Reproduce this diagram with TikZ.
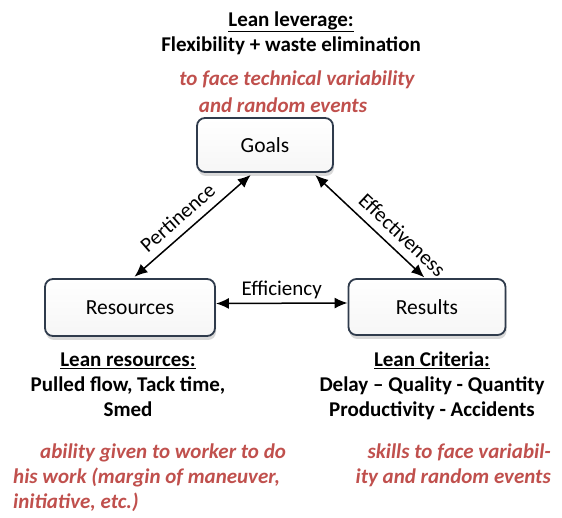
\documentclass[tikz,border=0pt]{standalone}
\usepackage{fontspec}
\setmainfont{Carlito}
\usetikzlibrary{arrows.meta}
\usetikzlibrary{shadows}
\pgfdeclarelayer{edgelayer}
\pgfdeclarelayer{nodelayer}
\pgfsetlayers{edgelayer,nodelayer,main}
\definecolor{leanred}{RGB}{192,80,77}
\definecolor{boxline}{RGB}{47,59,76}
\tikzstyle{pole}=[rectangle,rounded corners=8pt,draw=boxline,line width=1.8pt,top color=white,bottom color=gray!7,drop shadow={opacity=0.3,shadow xshift=1pt,shadow yshift=-4pt},font=\fontsize{21.5}{25}\selectfont,inner sep=0pt]
\tikzstyle{plain}=[inner sep=0pt,font=\fontsize{21}{25}\selectfont\bfseries,align=center]
\tikzstyle{remark}=[inner sep=0pt,font=\fontsize{21}{25}\selectfont\bfseries\itshape,text=leanred]
\tikzstyle{link}=[{Latex[length=13pt,width=11pt]}-{Latex[length=13pt,width=11pt]},line width=1.5pt]
\tikzstyle{tag}=[inner sep=0pt,font=\fontsize{21}{25}\selectfont]

\begin{document}
\begin{tikzpicture}[x=1pt,y=-1pt]
					\useasboundingbox (0,0) rectangle (562,518);
					\begin{pgfonlayer}{nodelayer}
						\node [style=pole,minimum width=136pt,minimum height=54pt] (goals) at (265.000,145.000) {Goals};
						\node [style=pole,minimum width=170pt,minimum height=57pt] (resources) at (130.000,307.500) {Resources};
						\node [style=pole,minimum width=157pt,minimum height=56pt] (results) at (427.000,307.000) {Results};
						\node [style=plain] (leverage) at (291.000,33.000) {\underline{Lean leverage:}\\Flexibility + waste elimination};
						\node [style=remark] (leverage1) at (297.000,80.000) {to face technical variability};
						\node [style=remark] (leverage2) at (283.000,105.000) {and random events};
						\node [style=plain] (leanres) at (128.000,385.000) {\underline{Lean resources:}\\Pulled flow, Tack time,\\Smed};
						\node [style=plain] (criteria) at (432.000,386.000) {\underline{Lean Criteria:}\\Delay – Quality - Quantity\\Productivity - Accidents};
						\node [style=remark,anchor=west,align=left] (ability) at (13.000,478.000) {\hspace*{27pt}ability given to worker to do\\his work (margin of maneuver,\\initiative, etc.)};
						\node [style=remark,anchor=east,align=right] (skills) at (551.000,465.000) {skills to face variabil-\\ity and random events};
					\end{pgfonlayer}
					\begin{pgfonlayer}{edgelayer}
						\draw [style=link,shorten <=2pt,shorten >=3pt] ([xshift=3pt]resources.north) to node [style=tag,sloped,above=8pt,pos=0.46] {Pertinence} ([xshift=-12pt]goals.south);
						\draw [style=link,shorten <=3pt,shorten >=1pt] ([xshift=48pt]goals.south) to node [style=tag,sloped,above=8pt,pos=0.7] {Effectiveness} ([xshift=-2pt]results.north);
						\draw [style=link] ([yshift=4pt]resources.east) to node [style=tag,above=4pt] {Efficiency} ([yshift=4pt]results.west);
					\end{pgfonlayer}
				\end{tikzpicture}
\end{document}
